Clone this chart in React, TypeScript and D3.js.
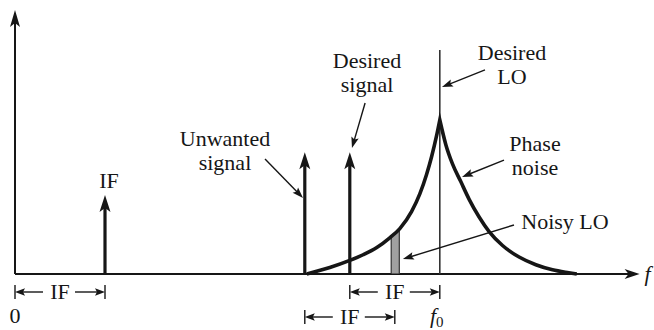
import React from 'react';
import * as d3 from 'd3';

const W = 654;
const H = 330;

// frequencies are in units of IF
const F0 = 4.72;
const xAxisEnd = 6.94;
const yAxisEnd = 1.714;

const signalNames = ['IF', 'Unwanted', 'Desired'];
const signalFreqs = [1.0, 3.22, 3.72];
const signalLevels = [0.513, 0.79, 0.79];

const loLevel = 1.455;

// phase noise skirt: offset from f0 (IF units) vs level (peak = 1)
const noiseLeftOffsets = [0, 0.037, 0.092, 0.148, 0.222, 0.314, 0.444, 0.556, 0.7, 0.852, 1.0, 1.222, 1.478];
const noiseLeftLevels = [1, 0.895, 0.76, 0.645, 0.52, 0.405, 0.295, 0.235, 0.172, 0.125, 0.088, 0.042, 0];
const noiseRightOffsets = [0, 0.067, 0.141, 0.233, 0.326, 0.437, 0.548, 0.697, 0.881, 1.067, 1.252, 1.433, 1.522];
const noiseRightLevels = [1, 0.84, 0.715, 0.6, 0.485, 0.37, 0.275, 0.185, 0.11, 0.06, 0.027, 0.008, 0];

const noisyBand = [4.18, 4.27];

const bracketFrom = [0, 3.72, 3.22];
const bracketTo = [1, 4.72, 4.22];
const bracketRow = [0, 0, 1];
const bracketText = ['IF', 'IF', 'IF'];

const labelLines = [['Unwanted', 'signal'], ['Desired', 'signal'], ['Desired', 'LO'], ['Phase', 'noise'], ['Noisy LO'], ['IF']];
const labelX = [2.333, 3.911, 5.522, 5.778, 6.111, 1.044];
const labelY = [0.833, 1.337, 1.39, 0.8, 0.292, 0.558];

const leaderFromX = [2.778, 3.89, 5.222, 5.433, 5.544];
const leaderFromY = [0.747, 1.11, 1.325, 0.74, 0.318];
const leaderToX = [3.2, 3.744, 4.744, 4.967, 4.31];
const leaderToY = [0.493, 0.818, 1.214, 0.63, 0.097];

const FONT = "'Liberation Serif', 'Times New Roman', serif";
const INK = '#161616';

function head(tx: number, ty: number, fx: number, fy: number, len: number, hw: number, notch: number) {
  const dx = tx - fx, dy = ty - fy;
  const d = Math.hypot(dx, dy) || 1;
  const ux = dx / d, uy = dy / d;
  const px = -uy, py = ux;
  const bx = tx - ux * len, by = ty - uy * len;
  const nx = tx - ux * (len - notch), ny = ty - uy * (len - notch);
  return `M${tx},${ty}L${bx + px * hw},${by + py * hw}L${nx},${ny}L${bx - px * hw},${by - py * hw}Z`;
}

export default function App() {
  const x = d3.scaleLinear().domain([0, 7]).range([15, 645]);
  const y = d3.scaleLinear().domain([0, 1]).range([274, 120]);
  const base = y(0);

  const leftPts: [number, number][] = noiseLeftOffsets
    .map((o, i) => [x(F0 - o), y(noiseLeftLevels[i])] as [number, number])
    .reverse();
  const rightPts: [number, number][] = noiseRightOffsets.map((o, i) => [x(F0 + o), y(noiseRightLevels[i])] as [number, number]);
  const gen = d3.line().curve(d3.curveMonotoneX);
  const leftPath = gen(leftPts) || '';
  const rightPath = (gen(rightPts) || '').replace(/^M/, 'L');
  const noisePath = leftPath + rightPath;
  const clipPath = noisePath + 'Z';

  const rowY = [base + 18, base + 43];

  return (
    <svg width={W} height={H} style={{ position: 'absolute', left: 0, top: 0, background: '#fff' }}>
      <defs>
        <clipPath id="under-noise">
          <path d={clipPath} />
        </clipPath>
      </defs>
      {/* axes */}
      <line x1={x(0)} y1={base} x2={x(xAxisEnd) - 10} y2={base} stroke={INK} strokeWidth={2} />
      <path d={head(x(xAxisEnd), base, x(0), base, 15, 5, 4)} fill={INK} />
      <line x1={x(0)} y1={base} x2={x(0)} y2={y(yAxisEnd) + 10} stroke={INK} strokeWidth={2} />
      <path d={head(x(0), y(yAxisEnd), x(0), base, 17, 5, 4)} fill={INK} />
      <text x={x(xAxisEnd) + 5} y={base + 7} fontFamily={FONT} fontSize={22} fontStyle="italic" fill={INK}>f</text>

      {/* LO line */}
      <line x1={x(F0)} y1={base} x2={x(F0)} y2={y(loLevel)} stroke="#333" strokeWidth={1.6} />

      {/* noisy LO band */}
      <g clipPath="url(#under-noise)">
        <rect x={x(noisyBand[0])} y={y(0.6)} width={x(noisyBand[1]) - x(noisyBand[0])} height={base - y(0.6)}
          fill="#a0a0a0" stroke="#333" strokeWidth={1.2} />
      </g>

      {/* phase noise */}
      <path d={noisePath} fill="none" stroke={INK} strokeWidth={3.6} strokeLinejoin="miter" strokeMiterlimit={20} />

      {/* signals */}
      {signalFreqs.map((f, i) => (
        <g key={signalNames[i] + i}>
          <line x1={x(f)} y1={base} x2={x(f)} y2={y(signalLevels[i]) + 10} stroke={INK} strokeWidth={3.2} />
          <path d={head(x(f), y(signalLevels[i]), x(f), base, 17, 5.5, 4)} fill={INK} />
        </g>
      ))}

      {/* labels */}
      {labelLines.map((lines, i) => (
        <text key={'l' + i} x={x(labelX[i])} y={y(labelY[i])} fontFamily={FONT} fontSize={22} textAnchor="middle" fill={INK}>
          {lines.map((t, j) => (
            <tspan key={j} x={x(labelX[i])} dy={j === 0 ? 0 : 24}>{t}</tspan>
          ))}
        </text>
      ))}

      {/* leader arrows */}
      {leaderFromX.map((fx, i) => {
        const x1 = x(fx), y1 = y(leaderFromY[i]);
        const x2 = x(leaderToX[i]), y2 = y(leaderToY[i]);
        const d = Math.hypot(x2 - x1, y2 - y1);
        const ex = x2 - ((x2 - x1) / d) * 8, ey = y2 - ((y2 - y1) / d) * 8;
        return (
          <g key={'a' + i}>
            <line x1={x1} y1={y1} x2={ex} y2={ey} stroke={INK} strokeWidth={1.4} />
            <path d={head(x2, y2, x1, y1, 11, 3.8, 2)} fill={INK} />
          </g>
        );
      })}

      {/* brackets */}
      {bracketFrom.map((a, i) => {
        const x1 = x(a), x2 = x(bracketTo[i]);
        const cy = rowY[bracketRow[i]];
        const cx = (x1 + x2) / 2;
        return (
          <g key={'b' + i}>
            <line x1={x1} y1={cy - 7} x2={x1} y2={cy + 7} stroke={INK} strokeWidth={1.4} />
            <line x1={x2} y1={cy - 7} x2={x2} y2={cy + 7} stroke={INK} strokeWidth={1.4} />
            <line x1={x1 + 6} y1={cy} x2={cx - 17} y2={cy} stroke={INK} strokeWidth={1.4} />
            <line x1={cx + 15} y1={cy} x2={x2 - 6} y2={cy} stroke={INK} strokeWidth={1.4} />
            <path d={head(x1, cy, cx, cy, 10, 3.8, 2)} fill={INK} />
            <path d={head(x2, cy, cx, cy, 10, 3.8, 2)} fill={INK} />
            <text x={cx} y={cy + 7} fontFamily={FONT} fontSize={22} textAnchor="middle" fill={INK}>{bracketText[i]}</text>
          </g>
        );
      })}

      {/* bottom tick labels */}
      <text x={x(0)} y={rowY[1] + 6} fontFamily={FONT} fontSize={22} textAnchor="middle" fill={INK}>0</text>
      <text x={x(F0) - 3} y={rowY[1] + 6} fontFamily={FONT} fontSize={22} textAnchor="middle" fill={INK}>
        <tspan fontStyle="italic">f</tspan>
        <tspan fontSize={15} dy={4}>0</tspan>
      </text>
    </svg>
  );
}
